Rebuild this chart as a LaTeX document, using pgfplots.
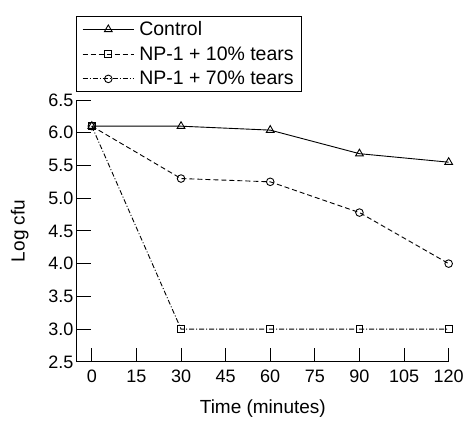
\documentclass[border=0pt]{standalone}
\usepackage{pgfplots}
\pgfplotsset{compat=1.18}
\usepackage{fontspec}
\setmainfont{Liberation Sans}
\begin{document}
\begin{tikzpicture}
\begin{axis}[scale only axis,width=372pt,height=262pt,
  xmin=-5,xmax=120,ymin=2.5,ymax=6.5,
  axis x line=bottom,axis y line=left,axis line style={-,line width=0.9pt},
  xtick={0,15,...,120},ytick={2.5,3,...,6.5},
  tick align=inside,major tick length=14pt,tick style={line width=0.9pt,black},
  yticklabel style={/pgf/number format/.cd,fixed,fixed zerofill,precision=1},
  xticklabel style={yshift=-5pt},
  ticklabel style={font=\fontsize{18}{21}\selectfont},
  /pgf/number format/assume math mode=true,
  label style={font=\fontsize{19}{22}\selectfont},
  xlabel={Time (minutes)},ylabel={Log cfu},
  xlabel style={yshift=-10pt},ylabel style={yshift=13pt},
  clip=false,
  legend cell align=left,
  legend style={at={(rel axis cs:-0.003,1.031)},anchor=south west,draw=black,line width=0.9pt,
    font=\fontsize{19.5}{22}\selectfont,row sep=5.5pt,inner xsep=6pt,inner ysep=3pt,
    /tikz/every odd column/.append style={column sep=3pt}},
  legend image code/.code={\draw[mark repeat=2,mark phase=2] plot coordinates {(0cm,0cm)(0.9cm,0cm)(1.8cm,0cm)};},
]
\addlegendimage{black,line width=0.9pt,mark=triangle,mark size=4.5pt,mark options={solid,fill=white}}
\addlegendentry{Control}
\addlegendimage{black,line width=0.9pt,dash pattern=on 5pt off 3pt,mark=square,mark size=3.5pt,mark options={solid,fill=white}}
\addlegendentry{NP-1 + 10\% tears}
\addlegendimage{black,line width=0.9pt,dash pattern=on 5pt off 2pt on 1pt off 2pt,mark=o,mark size=3.8pt,mark options={solid,fill=white}}
\addlegendentry{NP-1 + 70\% tears}
\addplot[forget plot,black,line width=0.9pt,dash pattern=on 5pt off 2pt on 1pt off 2pt,mark=square,mark size=3.5pt,mark options={solid,fill=white}]
  coordinates {(0,6.1)(30,3.0)(60,3.0)(90,3.0)(120,3.0)};
\addplot[forget plot,black,line width=0.9pt,dash pattern=on 5pt off 3pt,mark=o,mark size=3.8pt,mark options={solid,fill=white}]
  coordinates {(0,6.1)(30,5.3)(60,5.25)(90,4.78)(120,4.0)};
\addplot[forget plot,black,line width=0.9pt,mark=triangle,mark size=4.5pt,mark options={solid,fill=white}]
  coordinates {(0,6.1)(30,6.1)(60,6.04)(90,5.68)(120,5.55)};
\path (rel axis cs:-0.207,-0.202) rectangle (rel axis cs:1.048,1.382);
\end{axis}
\end{tikzpicture}
\end{document}
